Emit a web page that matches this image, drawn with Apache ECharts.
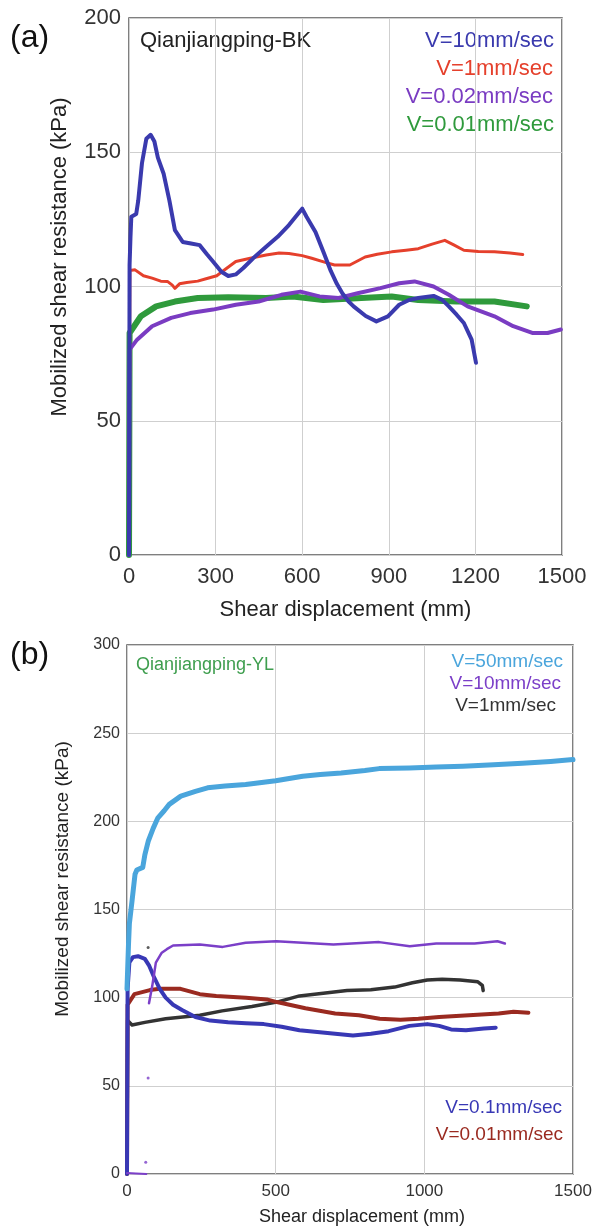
<!DOCTYPE html>
<html>
<head>
<meta charset="utf-8">
<script src="https://cdn.jsdelivr.net/npm/echarts@6/dist/echarts.min.js"></script>
<style>
  html, body { margin: 0; padding: 0; background: #fff; }
  #chart { width: 596px; height: 1229px; }
</style>
</head>
<body>
<div id="chart"></div>
<script>
// ---- (a) Qianjiangping-BK : [shear displacement mm, resistance kPa]
const bk10 = [[0,0],[2,108],[5,118],[8,126],[25,127],[32,132],[45,146],[60,155],[75,156.5],[88,154],[100,148],[120,142],[140,132],[159,121],[186,116.6],[215,116],[245,115.4],[270,112],[291,109.3],[320,105.5],[344,103.9],[370,104.5],[396,106.9],[430,110.5],[475,114.8],[515,118.5],[554,122.9],[585,127],[600,129],[615,126],[646,120.3],[675,112.5],[699,105.8],[720,101],[739,97.5],[760,94.5],[778,92.6],[820,89],[857,87],[897,88.9],[936,93.2],[970,95],[1002,95.7],[1055,96.5],[1085,95],[1108,92.6],[1135,89.5],[1160,86.4],[1187,80.2],[1202,71.6]]
const bk1 = [[0,0],[3,106],[21,106.2],[50,104],[80,103.1],[110,102],[133,101.9],[150,100.5],[159,99.3],[175,101],[200,101.5],[238,102],[270,103],[304,104],[335,106.5],[370,109.3],[420,110.5],[475,111.7],[520,112.5],[554,112.3],[600,111.5],[633,110.5],[680,109],[712,108],[765,108],[818,111],[860,112],[910,112.9],[960,113.5],[1002,114.1],[1050,115.8],[1094,117.2],[1125,115.5],[1160,113.5],[1210,113],[1266,112.9],[1320,112.5],[1364,111.9]]
const bk002 = [[0,0],[2,76.5],[28,80.2],[80,85.2],[146,88.3],[212,90.1],[291,91.4],[370,93.2],[449,94.4],[528,96.9],[594,98.1],[660,96.3],[726,95.7],[792,97.5],[871,99.4],[936,101.2],[989,101.9],[1055,100],[1108,96.9],[1173,92.6],[1266,88.9],[1331,85.2],[1397,82.7],[1450,82.7],[1496,84]]
const bk001 = [[0,0],[2,82.7],[41,88.9],[94,92.6],[159,94.4],[238,95.7],[344,96],[475,95.7],[568,96.3],[673,95],[805,95.7],[910,96.3],[1002,95],[1134,94.4],[1266,94.4],[1378,92.6]]

// ---- (b) Qianjiangping-YL
const yl50 = [[0,105],[5,130],[8,142],[17,155],[27,170],[33,172.4],[53,173.9],[60,181],[72,189],[88,196],[104,202],[125,206],[142,209.6],[181,214.3],[230,217],[271,219],[330,220],[399,220.9],[500,223],[591,225.6],[650,226.5],[720,227.4],[800,228.8],[848,229.9],[950,230.3],[1040,230.8],[1130,231.3],[1233,232.1],[1330,233],[1425,234],[1500,235]]
const yl10Start = [[0,0.5],[30,0.3],[65,0]]
const yl10 = [[74,96.8],[85,106.7],[97,119.9],[117,125.5],[134,127.5],[155,129.6],[245,130.2],[322,128.8],[399,131.1],[502,132],[591,131.1],[694,130.1],[848,131.5],[951,129.2],[1040,130.7],[1169,130.7],[1246,132],[1271,130.7]]
const yl10Stray = [[71,54.5],[63,6.6]]
const yl1 = [[0,0],[2,87],[17,84.5],[60,86],[130,88],[245,90],[320,92.5],[420,95],[504,97.5],[580,101],[660,102.5],[740,104],[820,104.5],[900,106],[960,108.5],[1010,110],[1060,110.5],[1120,110],[1180,109],[1195,107],[1198,104]]
const yl1Stray = [[71,128.5]]
const yl01 = [[0,0],[2,105],[8,120],[20,123],[37,123.5],[60,122],[75,118],[90,112],[110,105],[130,100],[155,96],[185,93],[230,89],[280,87],[340,86],[400,85.5],[460,85],[520,83.5],[580,81.5],[640,80.5],[700,79.5],[760,78.5],[820,79.5],[880,81],[950,84],[1010,85],[1050,84],[1090,82],[1140,81.5],[1200,82.5],[1240,83]]
const yl001 = [[0,0],[2,96],[25,102],[77,104.3],[110,105],[180,105],[245,102],[300,101],[400,100],[470,99],[504,97.5],[600,94],[700,91],[780,90],[850,88],[920,87.5],[980,88],[1050,89],[1150,90],[1250,91],[1300,92],[1350,91.5]]

const xTicksA = { min: 0, max: 1500, step: 300 }
const yTicksA = { min: 0, max: 200, step: 50 }
const xTicksB = { min: 0, max: 1500, step: 500 }
const yTicksB = { min: 0, max: 300, step: 50 }

const C = {
  blue: '#3a3aae', red: '#e5402c', purple: '#7a3cc2', green: '#2f9a3c',
  sky: '#4aa5dc', purple2: '#7b3fc8', black: '#333333', blue2: '#3838b5', darkred: '#9a2a20', green2: '#3e9e4e'
}

const chart = echarts.init(document.getElementById('chart'))

const textFont = "'Liberation Sans', Arial, sans-serif"

function valAxis(idx, t, fs, margin) {
  return {
    type: 'value', gridIndex: idx, min: t.min, max: t.max, interval: t.step,
    axisLine: { show: false },
    axisTick: { show: false },
    axisLabel: { color: '#333', fontSize: fs, fontFamily: textFont, margin: margin, formatter: v => String(v) },
    splitLine: { show: true, lineStyle: { color: '#cfcfcf', width: 1 } }
  }
}

function line(name, data, xi, color, width, z) {
  return {
    name: name, type: 'line', xAxisIndex: xi, yAxisIndex: xi, data: data,
    showSymbol: false, symbol: 'none', silent: true, z: z || 2,
    lineStyle: { color: color, width: width, join: 'round', cap: 'round' }
  }
}

function label(text, x, y, color, fs, align) {
  return { type: 'text', x: x, y: y, style: { text: text, fill: color, font: fs + 'px ' + textFont, align: align || 'left', verticalAlign: 'middle' } }
}

chart.setOption({
  animation: false,
  grid: [
    { left: 129, top: 18, width: 433, height: 537, show: true, borderColor: '#555', borderWidth: 1.5, backgroundColor: 'transparent' },
    { left: 127, top: 645, width: 446, height: 529, show: true, borderColor: '#555', borderWidth: 1.5, backgroundColor: 'transparent' }
  ],
  xAxis: [
    Object.assign(valAxis(0, xTicksA, 22, 11), { name: 'Shear displacement (mm)', nameLocation: 'middle', nameGap: 44, nameTextStyle: { fontSize: 22, color: '#222', fontFamily: textFont } }),
    Object.assign(valAxis(1, xTicksB, 17, 9), { name: 'Shear displacement (mm)', nameLocation: 'middle', nameGap: 34, nameTextStyle: { fontSize: 18, color: '#222', fontFamily: textFont, padding: [0, 0, 0, 24] } })
  ],
  yAxis: [
    valAxis(0, yTicksA, 22, 8),
    valAxis(1, yTicksB, 16, 7)
  ],
  graphic: [
    label('(a)', 10, 38, '#111', 32),
    label('(b)', 10, 655, '#111', 32),
    { type: 'text', x: 60, y: 257, rotation: Math.PI / 2, style: { text: 'Mobilized shear resistance (kPa)', fill: '#222', font: '22px ' + textFont, align: 'center', verticalAlign: 'middle' } },
    { type: 'text', x: 63, y: 879, rotation: Math.PI / 2, style: { text: 'Mobilized shear resistance (kPa)', fill: '#222', font: '19px ' + textFont, align: 'center', verticalAlign: 'middle' } },
    label('Qianjiangping-BK', 140, 41, '#222', 22),
    label('V=10mm/sec', 554, 41, C.blue, 22, 'right'),
    label('V=1mm/sec', 553, 69, C.red, 22, 'right'),
    label('V=0.02mm/sec', 553, 97, C.purple, 22, 'right'),
    label('V=0.01mm/sec', 554, 125, C.green, 22, 'right'),
    label('Qianjiangping-YL', 136, 665, C.green2, 18),
    label('V=50mm/sec', 563, 662, C.sky, 19, 'right'),
    label('V=10mm/sec', 561, 684, C.purple2, 19, 'right'),
    label('V=1mm/sec', 556, 706, C.black, 19, 'right'),
    label('V=0.1mm/sec', 562, 1108, C.blue2, 19, 'right'),
    label('V=0.01mm/sec', 563, 1135, C.darkred, 19, 'right')
  ],
  series: [
    line('V=0.01mm/sec', bk001, 0, C.green, 6, 2),
    line('V=0.02mm/sec', bk002, 0, C.purple, 4, 3),
    line('V=1mm/sec', bk1, 0, C.red, 3, 4),
    line('V=10mm/sec', bk10, 0, C.blue, 4, 5),

    line('V=1mm/sec', yl1, 1, C.black, 3.5, 2),
    { type: 'scatter', xAxisIndex: 1, yAxisIndex: 1, data: yl1Stray, symbolSize: 3, itemStyle: { color: C.black }, silent: true },
    line('V=0.01mm/sec', yl001, 1, C.darkred, 4, 3),
    line('V=0.1mm/sec', yl01, 1, C.blue2, 4, 4),
    line('V=10mm/sec', yl10Start, 1, C.purple2, 2, 5),
    line('V=10mm/sec', yl10, 1, C.purple2, 2.5, 5),
    { type: 'scatter', xAxisIndex: 1, yAxisIndex: 1, data: yl10Stray, symbolSize: 3, itemStyle: { color: C.purple2 }, silent: true },
    line('V=50mm/sec', yl50, 1, C.sky, 5, 6)
  ]
})
</script>
</body>
</html>
